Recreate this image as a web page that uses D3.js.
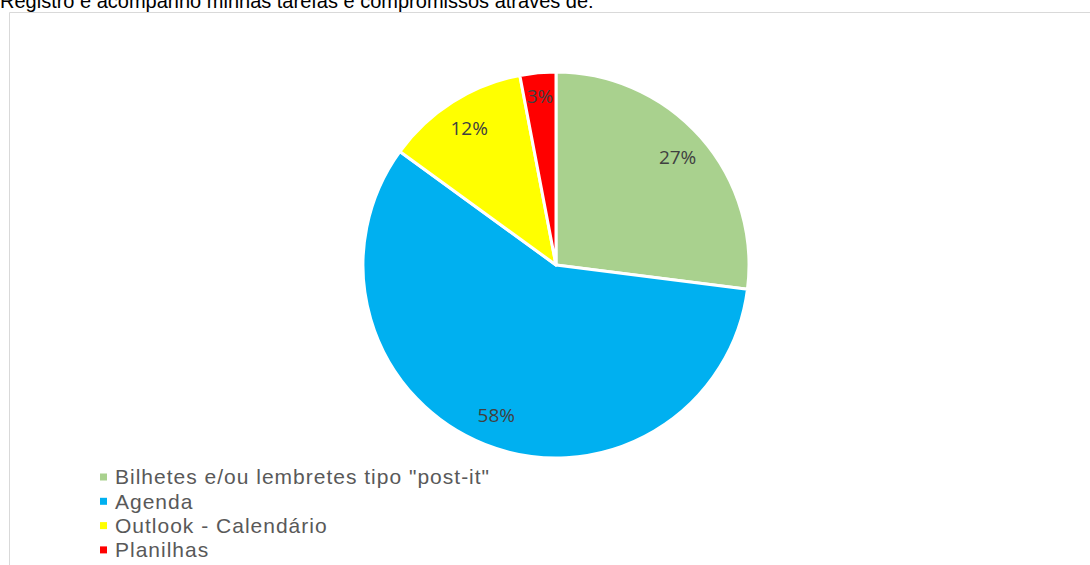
<!DOCTYPE html>
<html>
  <head>
    <meta charset="utf-8" />
    <script src="https://d3js.org/d3.v7.min.js"></script>
    <style>
      body { margin: 0; background: #fff; }
    </style>
  </head>
  <body>
    <div id="chart"></div>
    <script>
      const categories = [
        'Bilhetes e/ou lembretes tipo "post-it"',
        "Agenda",
        "Outlook - Calendário",
        "Planilhas",
      ];
      const values = [27, 58, 12, 3];
      const labels = ["27%", "58%", "12%", "3%"];
      const colors = ["#a9d18e", "#00b0f0", "#ffff00", "#ff0000"];
      const title = "Registro e acompanho minhas tarefas e compromissos através de:";

      const width = 1090, height = 565;
      const cx = 556, cy = 265, radius = 193;

      const svg = d3
        .select("#chart")
        .append("svg")
        .attr("width", width)
        .attr("height", height);

      // chart area border (top and left visible)
      svg.append("path")
        .attr("d", `M9.5,${height} V12.5 H${width}`)
        .attr("fill", "none")
        .attr("stroke", "#d9d9d9")
        .attr("stroke-width", 1);

      // title, cut off at the top like in the original
      svg.append("text")
        .attr("x", 0)
        .attr("y", 8)
        .style("font-family", "Liberation Sans, Arial, sans-serif")
        .style("font-size", "20px")
        .attr("fill", "#000")
        .text(title);

      const data = categories.map((c, i) => ({ name: c, value: values[i], label: labels[i], color: colors[i] }));

      const pie = d3.pie().value((d) => d.value).sort(null);
      const arc = d3.arc().innerRadius(0).outerRadius(radius);

      const g = svg.append("g").attr("transform", `translate(${cx},${cy})`);

      const arcs = pie(data);

      g.selectAll("path.slice")
        .data(arcs)
        .join("path")
        .attr("class", "slice")
        .attr("d", arc)
        .attr("fill", (d) => d.data.color)
        .attr("stroke", "#fff")
        .attr("stroke-width", 3)
        .attr("stroke-linejoin", "round");

      // data labels, small slice pushed a bit further out
      g.selectAll("text.lbl")
        .data(arcs)
        .join("text")
        .attr("class", "lbl")
        .attr("transform", (d) => {
          const r = radius * (d.data.value < 5 ? 0.88 : 0.84);
          return `translate(${d3.arc().innerRadius(r).outerRadius(r).centroid(d)})`;
        })
        .attr("text-anchor", "middle")
        .attr("dy", "0.35em")
        .style("font-family", "Open Sans, Noto Sans, sans-serif")
        .style("font-size", "19px")
        .attr("fill", "#404040")
        .text((d) => d.data.label);

      // legend
      const legend = svg.append("g").attr("transform", "translate(100,477)");
      const row = legend.selectAll("g")
        .data(data)
        .join("g")
        .attr("transform", (d, i) => `translate(0,${i * 24.3})`);
      row.append("rect")
        .attr("x", 0)
        .attr("y", -3.5)
        .attr("width", 7)
        .attr("height", 7)
        .attr("fill", (d) => d.color);
      row.append("text")
        .attr("x", 15)
        .attr("y", 0)
        .attr("dy", "0.35em")
        .style("font-family", "Liberation Sans, Arial, sans-serif")
        .style("font-size", "21px")
        .style("letter-spacing", "1px")
        .attr("fill", "#595959")
        .text((d) => d.name);
    </script>
  </body>
</html>
